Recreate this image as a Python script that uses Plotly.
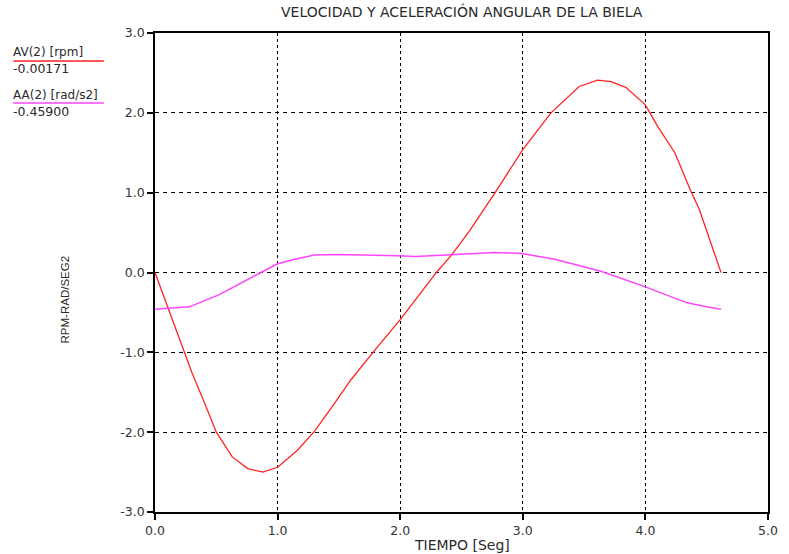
import plotly.graph_objects as go

# Angular velocity of the connecting rod, AV(2) [rpm]
t_av = [0.0, 0.15, 0.30, 0.40, 0.50, 0.63, 0.76, 0.88, 1.00, 1.16, 1.30, 1.45,
        1.60, 1.80, 2.00, 2.15, 2.30, 2.42, 2.57, 2.77, 3.00, 3.23, 3.33, 3.46,
        3.61, 3.72, 3.84, 4.00, 4.10, 4.24, 4.37, 4.44, 4.617]
av = [0.0, -0.62, -1.25, -1.62, -2.00, -2.31, -2.46, -2.50, -2.44, -2.23, -1.99, -1.67,
      -1.34, -0.96, -0.59, -0.29, 0.01, 0.22, 0.53, 0.99, 1.54, 2.00, 2.14, 2.33,
      2.41, 2.39, 2.32, 2.10, 1.83, 1.50, 1.02, 0.79, -0.00171]

# Angular acceleration of the connecting rod, AA(2) [rad/s2]
t_aa = [0.0, 0.28, 0.52, 0.70, 0.87, 1.00, 1.15, 1.30, 1.50, 1.72, 1.97, 2.13,
        2.42, 2.77, 2.98, 3.25, 3.45, 3.65, 4.00, 4.34, 4.50, 4.617]
aa = [-0.459, -0.43, -0.28, -0.13, 0.01, 0.11, 0.17, 0.22, 0.225, 0.22, 0.21, 0.20,
      0.22, 0.25, 0.24, 0.17, 0.09, 0.01, -0.18, -0.38, -0.43, -0.459]

x_ticks = [0, 1, 2, 3, 4, 5]
x_tick_labels = ["0.0", "1.0", "2.0", "3.0", "4.0", "5.0"]
y_ticks = [-3, -2, -1, 0, 1, 2, 3]
y_tick_labels = ["-3.0", "-2.0", "-1.0", "0.0", "1.0", "2.0", "3.0"]

legend_names = ["AV(2) [rpm]", "AA(2) [rad/s2]"]
legend_values = ["-0.00171", "-0.45900"]
colors = ["#ff2222", "#ff44ff"]

W, H = 789, 554
L, R, T, B = 155, 11, 33, 42
pw, ph = W - L - R, H - T - B


def px(x):
    return (x - L) / pw


def py(y):
    return 1 - (y - T) / ph


WIDE = "DejaVu Sans, Verdana, sans-serif"
NARROW = "Liberation Sans, Arial, sans-serif"
TXT = "#2a2a2a"

fig = go.Figure()
fig.add_trace(go.Scatter(x=t_av, y=av, mode="lines",
                         line=dict(color=colors[0], width=1.3), name=legend_names[0]))
fig.add_trace(go.Scatter(x=t_aa, y=aa, mode="lines",
                         line=dict(color=colors[1], width=1.5), name=legend_names[1]))

axis_common = dict(showline=True, mirror=True, linecolor="black", linewidth=1.5,
                   ticks="outside", ticklen=6, tickwidth=1.5, tickcolor="black",
                   showgrid=True, gridcolor="black", gridwidth=1,
                   zeroline=False,
                   tickfont=dict(family=WIDE, size=12.5, color="#333"))

fig.update_xaxes(range=[0, 5], tickvals=x_ticks, ticktext=x_tick_labels,
                 griddash="3px,3px", **axis_common)
fig.update_yaxes(range=[-3, 3], tickvals=y_ticks, ticktext=y_tick_labels,
                 griddash="4px,4px", **axis_common)

annotations = [
    dict(text="VELOCIDAD Y ACELERACIÓN ANGULAR DE LA BIELA", x=px(467), y=py(12),
         xanchor="center", font=dict(family=WIDE, size=14, color=TXT)),
    dict(text="TIEMPO [Seg]", x=px(467), y=py(545), xanchor="center",
         font=dict(family=WIDE, size=14, color=TXT)),
    dict(text="RPM-RAD/SEG2", x=px(64), y=py(299), textangle=-90, xanchor="center",
         font=dict(family=NARROW, size=11.5, color=TXT)),
]
shapes = []
rows = [(52, 61, 69), (95, 103, 111)]
for (yn, yl, yv), name, val, c in zip(rows, legend_names, legend_values, colors):
    annotations.append(dict(text=name, x=px(9), y=py(yn), xanchor="left",
                            font=dict(family=WIDE, size=12, color=TXT)))
    annotations.append(dict(text=val, x=px(9), y=py(yv), xanchor="left",
                            font=dict(family=WIDE, size=12.5, color=TXT)))
    shapes.append(dict(type="line", xref="paper", yref="paper",
                       x0=px(11), x1=px(103), y0=py(yl), y1=py(yl),
                       line=dict(color=c, width=1.3)))

for a in annotations:
    a.update(xref="paper", yref="paper", showarrow=False, yanchor="middle")

fig.update_layout(width=W, height=H, margin=dict(l=L, r=R, t=T, b=B),
                  paper_bgcolor="white", plot_bgcolor="white", showlegend=False,
                  annotations=annotations, shapes=shapes,
                  font=dict(family=WIDE))

fig.write_html("out.html")
